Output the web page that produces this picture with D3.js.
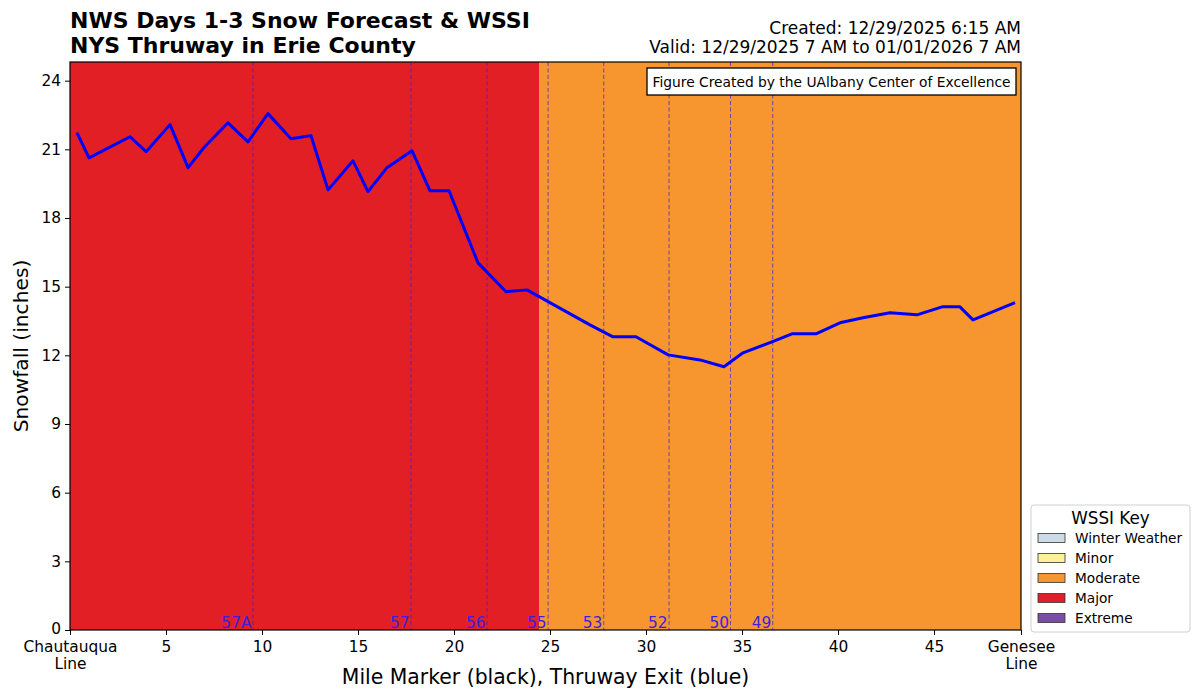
<!DOCTYPE html>
<html>
<head>
<meta charset="utf-8">
<script src="https://cdn.jsdelivr.net/npm/d3@7"></script>
<style>
  body { margin: 0; background: #fff; }
  svg { display: block; font-family: "DejaVu Sans", sans-serif; }
</style>
</head>
<body>
<svg id="chart" width="1200" height="697"></svg>
<script>
// mile marker along the thruway and forecast snowfall (inches)
var miles = [0.36, 0.99, 3.13, 3.96, 5.21, 6.15, 7.0, 8.23, 9.27, 10.31, 11.51, 12.55,
    13.44, 14.74, 15.52, 16.51, 17.81, 18.75, 19.74, 21.25, 22.71, 23.8, 27.08, 28.28,
    29.48, 31.15, 32.81, 34.06, 35.05, 36.56, 37.6, 38.85, 40.1, 41.3, 42.71, 44.11,
    45.42, 46.35, 47.03, 49.22];
var snow = [21.73, 20.63, 21.55, 20.9, 22.08, 20.2, 21.1, 22.16, 21.33, 22.56, 21.46, 21.6,
    19.23, 20.5, 19.15, 20.2, 20.94, 19.19, 19.19, 16.04, 14.78, 14.86, 13.33, 12.81,
    12.81, 12.02, 11.8, 11.5, 12.11, 12.59, 12.94, 12.94, 13.42, 13.64, 13.86, 13.77,
    14.12, 14.12, 13.55, 14.3];

// WSSI impact bands along the route
var wssiStart = [0, 24.43];
var wssiEnd = [24.43, 49.53];
var wssiLevel = ['Major', 'Moderate'];

// thruway exits
var exitNames = ['57A', '57', '56', '55', '53', '52', '50', '49'];
var exitMiles = [9.53, 17.76, 21.72, 24.9, 27.8, 31.2, 34.4, 36.6];

var xTickVals = [0, 5, 10, 15, 20, 25, 30, 35, 40, 45, 49.53];
var xTickText = ['Chautauqua\nLine', '5', '10', '15', '20', '25', '30', '35', '40', '45', 'Genesee\nLine'];
var yTickVals = [0, 3, 6, 9, 12, 15, 18, 21, 24];

var keyNames = ['Winter Weather', 'Minor', 'Moderate', 'Major', 'Extreme'];
var keyColors = ['#cddbe6', '#fdf09a', '#f7962f', '#e31f26', '#7a4fa3'];

var margin = {l: 70, t: 62, r: 179, b: 67};
var W = 1200, H = 697;
var w = W - margin.l - margin.r, h = H - margin.t - margin.b;

var svg = d3.select('#chart');
var colorOf = d3.scaleOrdinal().domain(keyNames).range(keyColors);

var x = d3.scaleLinear().domain([0, 49.53]).range([0, w]);
var y = d3.scaleLinear().domain([0, d3.max(snow) * 1.1]).range([h, 0]);

var g = svg.append('g')
    .attr('transform', 'translate(' + margin.l + ',' + margin.t + ')');

// wssi background
g.selectAll('rect.band')
    .data(wssiLevel)
    .enter().append('rect')
    .attr('class', 'band')
    .attr('x', function(d, i) { return x(wssiStart[i]); })
    .attr('y', 0)
    .attr('width', function(d, i) { return x(wssiEnd[i]) - x(wssiStart[i]); })
    .attr('height', h)
    .attr('fill', function(d) { return colorOf(d); });

// exit lines + labels
g.selectAll('line.exit')
    .data(exitMiles)
    .enter().append('line')
    .attr('class', 'exit')
    .attr('x1', function(d) { return x(d); })
    .attr('x2', function(d) { return x(d); })
    .attr('y1', 0)
    .attr('y2', h)
    .attr('stroke', '#3a1fd8')
    .attr('stroke-opacity', 0.7)
    .attr('stroke-width', 1)
    .attr('stroke-dasharray', '4,2.5');

g.selectAll('text.exit')
    .data(exitNames)
    .enter().append('text')
    .attr('class', 'exit')
    .attr('x', function(d, i) { return x(exitMiles[i]) - 1.5; })
    .attr('y', h - 2)
    .attr('text-anchor', 'end')
    .attr('font-size', '15.4px')
    .attr('fill', '#3d1ee0')
    .text(function(d) { return d; });

// snowfall line
var line = d3.line()
    .x(function(d, i) { return x(miles[i]); })
    .y(function(d) { return y(d); });

g.append('path')
    .datum(snow)
    .attr('d', line)
    .attr('fill', 'none')
    .attr('stroke', '#0000ff')
    .attr('stroke-width', 3)
    .attr('stroke-linejoin', 'round');

// frame
g.append('rect')
    .attr('width', w)
    .attr('height', h)
    .attr('fill', 'none')
    .attr('stroke', '#000')
    .attr('stroke-width', 1.2);

// axes
var yAxis = g.append('g')
    .call(d3.axisLeft(y).tickValues(yTickVals).tickSize(5).tickPadding(4));
var xAxis = g.append('g')
    .attr('transform', 'translate(0,' + h + ')')
    .call(d3.axisBottom(x).tickValues(xTickVals).tickSize(5).tickPadding(6)
        .tickFormat(function(d, i) { return xTickText[i]; }));

[xAxis, yAxis].forEach(function(a) {
    a.select('.domain').remove();
    a.selectAll('line').attr('stroke', '#000').attr('stroke-width', 1);
    a.selectAll('text').attr('font-size', '15.4px').attr('fill', '#000')
        .attr('font-family', '"DejaVu Sans", sans-serif');
});

// the zero label sits a touch high so it clears the first x label
yAxis.selectAll('.tick text').attr('dy', function(d) { return d === 0 ? '0.2em' : '0.32em'; });

// multi-line tick labels
xAxis.selectAll('.tick text').each(function(d, i) {
    var parts = xTickText[i].split('\n');
    var t = d3.select(this).text(null);
    parts.forEach(function(p, j) {
        t.append('tspan').attr('x', 0).attr('dy', j === 0 ? '0.71em' : '1.1em').text(p);
    });
});

// axis titles
svg.append('text')
    .attr('x', margin.l + w / 2)
    .attr('y', 684)
    .attr('text-anchor', 'middle')
    .attr('font-size', '20.4px')
    .text('Mile Marker (black), Thruway Exit (blue)');

svg.append('text')
    .attr('transform', 'translate(28,' + (margin.t + h / 2) + ') rotate(-90)')
    .attr('text-anchor', 'middle')
    .attr('font-size', '20.2px')
    .text('Snowfall (inches)');

// titles
var titleLines = ['NWS Days 1-3 Snow Forecast & WSSI', 'NYS Thruway in Erie County'];
svg.selectAll('text.title')
    .data(titleLines)
    .enter().append('text')
    .attr('class', 'title')
    .attr('x', margin.l)
    .attr('y', function(d, i) { return 28 + i * 25; })
    .attr('font-size', '22px')
    .attr('font-weight', 'bold')
    .text(function(d) { return d; });

var infoLines = ['Created: 12/29/2025 6:15 AM', 'Valid: 12/29/2025 7 AM to 01/01/2026 7 AM'];
svg.selectAll('text.info')
    .data(infoLines)
    .enter().append('text')
    .attr('class', 'info')
    .attr('x', margin.l + w)
    .attr('y', function(d, i) { return 34 + i * 18.5; })
    .attr('text-anchor', 'end')
    .attr('font-size', '17px')
    .text(function(d) { return d; });

// credit box
var credit = svg.append('g').attr('transform', 'translate(647,68)');
credit.append('rect')
    .attr('width', 369)
    .attr('height', 27)
    .attr('fill', '#fff')
    .attr('stroke', '#000')
    .attr('stroke-width', 1.3);
credit.append('text')
    .attr('x', 184.5)
    .attr('y', 18.5)
    .attr('text-anchor', 'middle')
    .attr('font-size', '13.8px')
    .text('Figure Created by the UAlbany Center of Excellence');

// wssi key
var key = svg.append('g').attr('transform', 'translate(1031,505)');
key.append('rect')
    .attr('width', 159)
    .attr('height', 127)
    .attr('rx', 3)
    .attr('fill', '#fff')
    .attr('fill-opacity', 0.8)
    .attr('stroke', '#d0d0d0');
key.append('text')
    .attr('x', 79.5)
    .attr('y', 19)
    .attr('text-anchor', 'middle')
    .attr('font-size', '16.8px')
    .text('WSSI Key');

var rows = key.selectAll('g.row')
    .data(keyNames)
    .enter().append('g')
    .attr('class', 'row')
    .attr('transform', function(d, i) { return 'translate(0,' + (33 + i * 20) + ')'; });
rows.append('rect')
    .attr('x', 7)
    .attr('y', -4.5)
    .attr('width', 27)
    .attr('height', 9)
    .attr('fill', function(d) { return colorOf(d); })
    .attr('stroke', '#333')
    .attr('stroke-width', 0.8);
rows.append('text')
    .attr('x', 44)
    .attr('y', 5)
    .attr('font-size', '13.7px')
    .text(function(d) { return d; });
</script>
</body>
</html>
